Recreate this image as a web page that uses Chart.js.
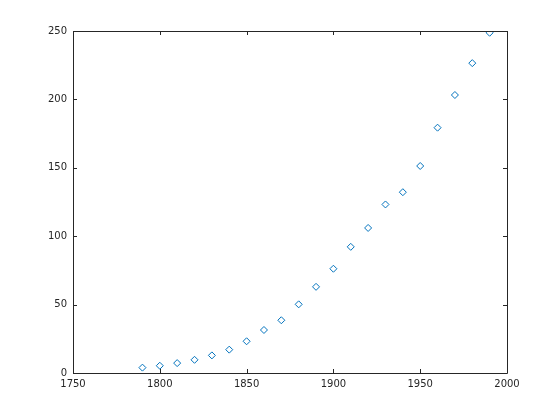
<!DOCTYPE html>
<html>
<head>
<meta charset="utf-8">
<script src="https://cdn.jsdelivr.net/npm/chart.js@4"></script>
<style>
  html, body { margin: 0; padding: 0; background: #fff; }
  #wrap { width: 560px; height: 420px; }
</style>
</head>
<body>
<div id="wrap"><canvas id="myChart" width="560" height="420"></canvas></div>
<script>
// census years and population (millions)
var years = [1790, 1800, 1810, 1820, 1830, 1840, 1850, 1860, 1870, 1880, 1890,
             1900, 1910, 1920, 1930, 1940, 1950, 1960, 1970, 1980, 1990];
var population = [3.929, 5.308, 7.240, 9.638, 12.866, 17.069, 23.192, 31.443, 38.558,
                  50.189, 62.980, 76.212, 92.228, 106.021, 123.202, 132.165, 151.326,
                  179.323, 203.212, 226.505, 248.710];
var xTicks = [1750, 1800, 1850, 1900, 1950, 2000];
var yTicks = [0, 50, 100, 150, 200, 250];

var axisColor = "#262626";

// box around the axes with inward tick marks, MATLAB style
var boxPlugin = {
  id: "box",
  afterDraw: function (chart) {
    var ctx = chart.ctx;
    var a = chart.chartArea;
    var xs = chart.scales.x, ys = chart.scales.y;
    ctx.save();
    ctx.strokeStyle = axisColor;
    ctx.lineWidth = 1;
    ctx.beginPath();
    ctx.rect(Math.round(a.left) + 0.5, Math.round(a.top) + 0.5,
             Math.round(a.right - a.left), Math.round(a.bottom - a.top));
    xTicks.forEach(function (t) {
      var px = Math.round(xs.getPixelForValue(t)) + 0.5;
      ctx.moveTo(px, a.bottom); ctx.lineTo(px, a.bottom - 4);
      ctx.moveTo(px, a.top); ctx.lineTo(px, a.top + 4);
    });
    yTicks.forEach(function (t) {
      var py = Math.round(ys.getPixelForValue(t)) + 0.5;
      ctx.moveTo(a.left, py); ctx.lineTo(a.left + 4, py);
      ctx.moveTo(a.right, py); ctx.lineTo(a.right - 4, py);
    });
    ctx.stroke();
    ctx.restore();
  }
};

var points = years.map(function (y, i) { return { x: y, y: population[i] }; });

var ctx = document.getElementById("myChart").getContext("2d");
var myChart = new Chart(ctx, {
  type: "scatter",
  data: {
    datasets: [{
      data: points,
      pointStyle: "rectRot",
      pointRadius: 3.5,
      pointBorderWidth: 1,
      borderColor: "#0072BD",
      backgroundColor: "rgba(0,0,0,0)",
      showLine: false
    }]
  },
  options: {
    responsive: false,
    animation: false,
    layout: { padding: { left: 0, top: 31, right: 53, bottom: 0 } },
    plugins: { legend: { display: false }, tooltip: { enabled: false } },
    scales: {
      x: {
        type: "linear",
        min: 1750, max: 2000,
        afterBuildTicks: function (s) { s.ticks = xTicks.map(function (v) { return { value: v }; }); },
        afterFit: function (s) { s.height = 47; },
        grid: { display: false, drawTicks: false },
        border: { display: false },
        ticks: {
          color: axisColor, padding: 5, maxRotation: 0,
          font: { family: "DejaVu Sans", size: 10 },
          callback: function (v) { return String(v); }
        }
      },
      y: {
        type: "linear",
        min: 0, max: 250,
        afterBuildTicks: function (s) { s.ticks = yTicks.map(function (v) { return { value: v }; }); },
        afterFit: function (s) { s.width = 73; },
        grid: { display: false, drawTicks: false },
        border: { display: false },
        ticks: {
          color: axisColor, padding: 6,
          font: { family: "DejaVu Sans", size: 10 },
          callback: function (v) { return String(v); }
        }
      }
    }
  },
  plugins: [boxPlugin]
});
</script>
</body>
</html>
